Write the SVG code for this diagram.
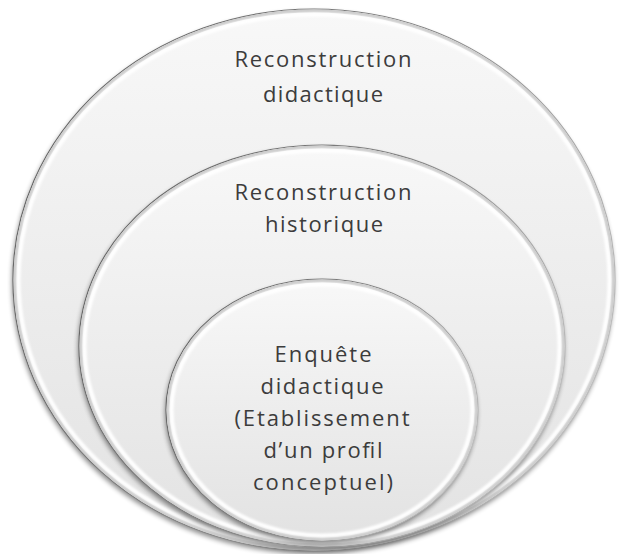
<svg xmlns="http://www.w3.org/2000/svg" width="622" height="554" viewBox="0 0 622 554">
  <defs>
    <linearGradient id="bodyFill" x1="0" y1="0" x2="0" y2="1">
      <stop offset="0" stop-color="#f8f8f8"/>
      <stop offset="0.5" stop-color="#ededed"/>
      <stop offset="1" stop-color="#e2e2e2"/>
    </linearGradient>
    <linearGradient id="edge" x1="0" y1="0.3" x2="1" y2="0.7">
      <stop offset="0" stop-color="#636363"/>
      <stop offset="0.5" stop-color="#858585"/>
      <stop offset="1" stop-color="#c0c0c0"/>
    </linearGradient>
    <filter id="shadowBlur" x="-10%" y="-10%" width="120%" height="120%">
      <feGaussianBlur stdDeviation="2.5"/>
    </filter>
    <filter id="rimBlur" x="-5%" y="-5%" width="110%" height="110%">
      <feGaussianBlur stdDeviation="0.9"/>
    </filter>
  </defs>
  <style>
    .shadow { fill: #000; opacity: 0.45; filter: url(#shadowBlur); }
    .body { fill: url(#bodyFill); stroke: url(#edge); stroke-width: 1.2; }
    .band { fill: none; stroke: #cdcdcd; stroke-width: 3; }
    .rim { fill: none; stroke: #ffffff; stroke-width: 4; filter: url(#rimBlur); }
    .label { font-family: "Open Sans", "Liberation Sans", sans-serif; font-size: 22px; fill: #3c3c3c; text-anchor: middle; }
  </style>

  <g id="node-outer">
    <ellipse class="shadow" cx="313" cy="283" rx="301" ry="271"/>
    <ellipse class="body" cx="314" cy="280" rx="301" ry="271"/>
    <ellipse class="band" cx="314" cy="280" rx="299" ry="269"/>
    <ellipse class="rim" cx="314" cy="280" rx="295.5" ry="265.5"/>
    <text class="label" x="323" y="67" textLength="177" lengthAdjust="spacing">Reconstruction</text>
    <text class="label" x="323" y="102" textLength="120" lengthAdjust="spacing">didactique</text>
  </g>

  <g id="node-middle">
    <ellipse class="shadow" cx="321" cy="349" rx="243" ry="201"/>
    <ellipse class="body" cx="322" cy="346" rx="243" ry="201"/>
    <ellipse class="band" cx="322" cy="346" rx="241" ry="199"/>
    <ellipse class="rim" cx="322" cy="346" rx="237.5" ry="195.5"/>
    <text class="label" x="323" y="200" textLength="177" lengthAdjust="spacing">Reconstruction</text>
    <text class="label" x="324" y="232" textLength="118" lengthAdjust="spacing">historique</text>
  </g>

  <g id="node-inner">
    <ellipse class="shadow" cx="321" cy="413" rx="156" ry="131"/>
    <ellipse class="body" cx="322" cy="410" rx="156" ry="131"/>
    <ellipse class="band" cx="322" cy="410" rx="154" ry="129"/>
    <ellipse class="rim" cx="322" cy="410" rx="150.5" ry="125.5"/>
    <text class="label" x="323" y="362" textLength="97" lengthAdjust="spacing">Enquête</text>
    <text class="label" x="322" y="394" textLength="123" lengthAdjust="spacing">didactique</text>
    <text class="label" x="322" y="426" textLength="175" lengthAdjust="spacing">(Etablissement</text>
    <text class="label" x="323" y="458" textLength="119" lengthAdjust="spacing">d’un profil</text>
    <text class="label" x="323" y="490" textLength="140" lengthAdjust="spacing">conceptuel)</text>
  </g>

  <g id="connectors"/>
</svg>
